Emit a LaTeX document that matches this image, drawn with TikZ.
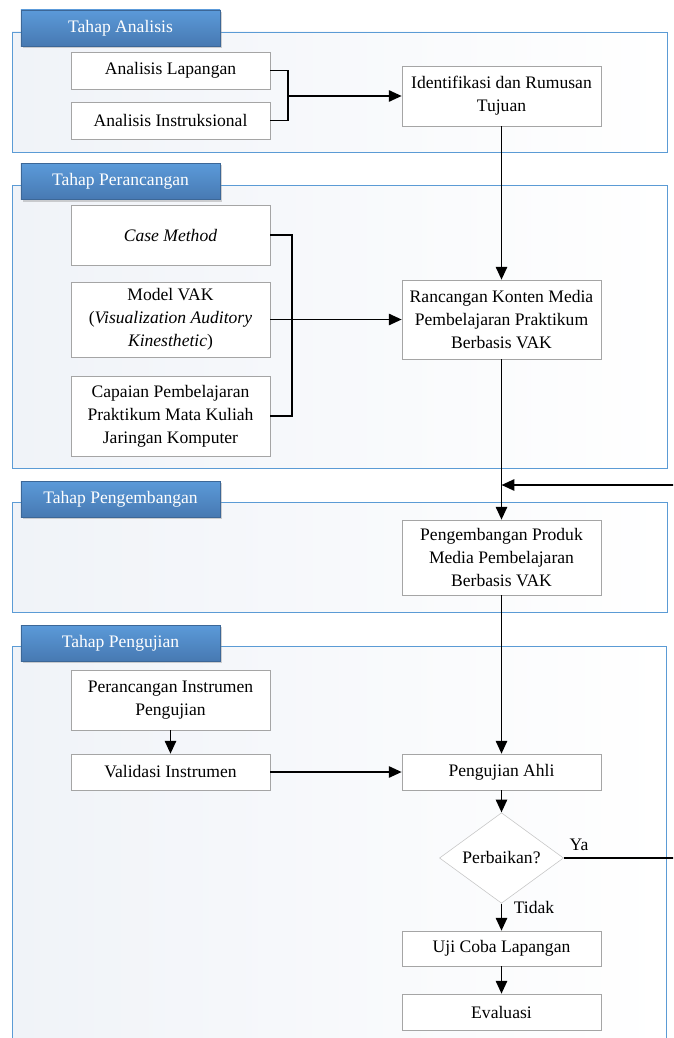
\documentclass[tikz,border=0pt]{standalone}
\usepackage{fontspec}
\setmainfont{Liberation Serif}
\usetikzlibrary{positioning,arrows.meta,shapes.geometric,shadows}
\definecolor{tabtop}{HTML}{5B9AD9}
\definecolor{tabbot}{HTML}{4779B2}
\definecolor{frameblue}{HTML}{5B9BD5}
\definecolor{framefill}{HTML}{F0F3F8}
\definecolor{boxgray}{HTML}{A5A5A5}

\begin{document}
\begin{tikzpicture}[
  x=0.025cm, y=-0.025cm,
  font=\fontsize{12.5}{16.4}\selectfont,
  phase/.style={draw=frameblue, line width=0.7pt, left color=framefill, right color=white},
  tab/.style={rectangle, draw=tabbot!85!black, line width=0.4pt, top color=tabtop, bottom color=tabbot, text=white, minimum width=4.975cm, minimum height=0.9cm, drop shadow={opacity=0.35, shadow xshift=0.5mm, shadow yshift=-0.5mm}},
  stepbox/.style={rectangle, draw=boxgray, fill=white, minimum width=4.975cm, align=center, inner sep=1pt},
  decision/.style={diamond, draw=gray!45, fill=white, minimum width=3.1cm, minimum height=2.05cm, inner sep=0pt},
  arrow/.style={-{Triangle[length=3.2mm, width=2.8mm]}, line width=1.4pt},
  line/.style={line width=1.4pt}
  ]
  \useasboundingbox (0,0) rectangle (673,1038);
  \clip (0,0) rectangle (673,1038);

  % Phase frames and their tabs
  \draw[phase] (12,32) rectangle (667,152);
  \draw[phase] (12,185) rectangle (667,468);
  \draw[phase] (12,502) rectangle (667,612);
  \draw[phase] (12,646) rectangle (666,1060);
  \node[tab] (t1) at (120.5,28) {Tahap Analisis};
  \node[tab] (t2) at (120.5,181.5) {Tahap Perancangan};
  \node[tab] (t3) at (120.5,499) {Tahap Pengembangan};
  \node[tab] (t4) at (120.5,643) {Tahap Pengujian};

  % Tahap Analisis
  \node[stepbox, minimum height=0.925cm] (al) at (170.5,70.5) {Analisis Lapangan};
  \node[stepbox, minimum height=0.925cm] (ai) at (170.5,120.5) {Analisis Instruksional};
  \node[stepbox, minimum height=1.5cm] (idt) at (501.5,96) {Identifikasi dan Rumusan\\Tujuan};
  \draw[line] (al.east) -- ++(18,0) |- (ai.east);
  \coordinate (b1) at (288,96);
  \draw[arrow] (b1) -- (idt.west);

  % Tahap Perancangan
  \node[stepbox, minimum height=1.5cm] (cm) at (170.5,235) {\textit{Case Method}};
  \node[stepbox, minimum height=1.875cm] (vak) at (170.5,319.5) {Model VAK\\(\textit{Visualization Auditory}\\\textit{Kinesthetic})};
  \node[stepbox, minimum height=2cm] (cp) at (170.5,416) {Capaian Pembelajaran\\Praktikum Mata Kuliah\\Jaringan Komputer};
  \node[stepbox, minimum height=1.975cm] (rk) at (501.5,319.5) {Rancangan Konten Media\\Pembelajaran Praktikum\\Berbasis VAK};
  \draw[line] (cm.east) -- ++(22,0) |- (cp.east);
  \draw[arrow] (vak.east) -- (rk.west);
  \draw[arrow] (idt.south) -- (rk.north);

  % Tahap Pengembangan
  \node[stepbox, minimum height=1.875cm] (pp) at (501.5,557.5) {Pengembangan Produk\\Media Pembelajaran\\Berbasis VAK};
  \draw[arrow] (rk.south) -- (pp.north);

  % Tahap Pengujian
  \node[stepbox, minimum height=1.5cm] (pi) at (170.5,700) {Perancangan Instrumen\\Pengujian};
  \node[stepbox, minimum height=0.9cm] (vi) at (170.5,772) {Validasi Instrumen};
  \node[stepbox, minimum height=0.9cm] (pa) at (501.5,772) {Pengujian Ahli};
  \node[decision] (dm) at (501.5,858) {Perbaikan?};
  \node[stepbox, minimum height=0.875cm] (uc) at (501.5,948.5) {Uji Coba Lapangan};
  \node[stepbox, minimum height=0.9cm] (ev) at (501.5,1012) {Evaluasi};
  \draw[arrow] (pi) -- (vi);
  \draw[arrow] (vi.east) -- (pa.west);
  \draw[arrow] (pp.south) -- (pa.north);
  \draw[arrow] (pa) -- (dm);
  \draw[arrow] (dm) -- (uc);
  \draw[arrow] (uc) -- (ev);
  \node (tidak) at (534,907) {Tidak};
  \node (ya) at (579,845) {Ya};

  % Revision loop back to development
  \coordinate (fb) at (501.5,485);
  \draw[arrow] (dm.east) -- (677,858) |- (fb);
\end{tikzpicture}
\end{document}
